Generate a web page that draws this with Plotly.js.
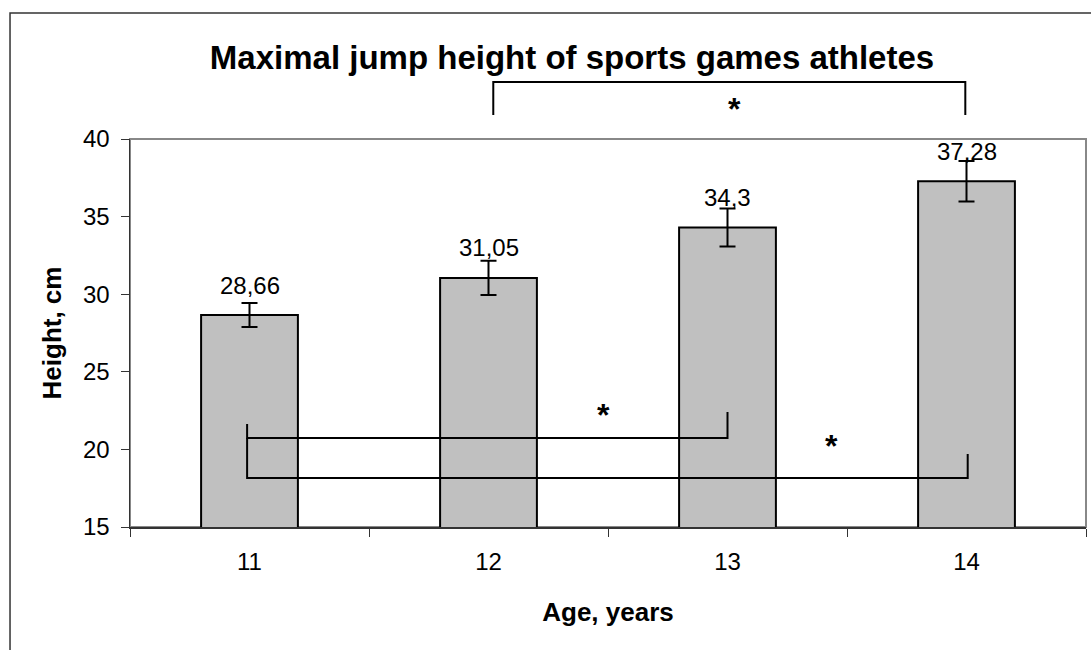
<!DOCTYPE html>
<html>
<head>
<meta charset="utf-8">
<script src="https://cdn.plot.ly/plotly-3.0.1.min.js"></script>
<style>
  html, body { margin: 0; padding: 0; background: #fff; }
  #chart { width: 1091px; height: 650px; }
</style>
</head>
<body>
<div id="chart"></div>
<script>
// Mean maximal jump height by age group, with error bar half-widths
const ages = ['11', '12', '13', '14'];
const heights = [28.66, 31.05, 34.3, 37.28];
const errors = [0.77, 1.1, 1.22, 1.3];

const FONT = 'Arial, "Liberation Sans", sans-serif';

const bars = {
  type: 'bar',
  x: ages,
  y: heights,
  width: 0.405,
  marker: { color: '#c0c0c0', line: { color: '#000', width: 2 } },
  error_y: { type: 'data', array: errors, visible: true, color: '#000', thickness: 2, width: 8 },
  hoverinfo: 'x+y',
  showlegend: false
};

// Value labels above each bar, with comma as decimal separator
// (x given as category index, since the age names look numeric)
const valueLabels = ages.map((a, i) => ({
  x: i, y: heights[i], xref: 'x', yref: 'y',
  text: String(heights[i]).replace('.', ','),
  showarrow: false, yanchor: 'middle', yshift: 30,
  font: { family: FONT, size: 24, color: '#000' }
}));

// Significance markers
const starFont = { family: FONT, size: 32, color: '#000', weight: 'bold' };
const stars = [
  { x: 2.03, y: 1.129, xref: 'x', yref: 'paper', text: '*', showarrow: false, font: starFont },
  { x: 1.48, y: 22.2, xref: 'x', yref: 'y', text: '*', showarrow: false, font: starFont },
  { x: 2.437, y: 20.2, xref: 'x', yref: 'y', text: '*', showarrow: false, font: starFont }
];

const bk = { color: '#000', width: 2 };
const shapes = [
  // outer chart frame
  { type: 'rect', xref: 'paper', yref: 'paper', x0: -0.1255, x1: 1.1, y0: -0.4, y1: 1.3247,
    line: { color: '#333', width: 1.5 }, fillcolor: 'rgba(0,0,0,0)', layer: 'below' },
  // plot area border
  { type: 'rect', xref: 'paper', yref: 'paper', x0: 0, x1: 1, y0: 0, y1: 1,
    line: { color: '#888', width: 2 }, fillcolor: 'rgba(0,0,0,0)', layer: 'below' },
  // bracket 12 - 14 above the plot
  { type: 'path', xref: 'x', yref: 'paper', path: 'M 1.02 1.062 L 1.02 1.147 L 2.995 1.147 L 2.995 1.062', line: bk },
  // bracket 11 - 13
  { type: 'path', xref: 'x', yref: 'y', path: 'M -0.01 21.64 L -0.01 20.73 L 2.0 20.73 L 2.0 22.41', line: bk },
  // bracket 11 - 14
  { type: 'path', xref: 'x', yref: 'y', path: 'M -0.01 20.73 L -0.01 18.16 L 3.005 18.16 L 3.005 19.70', line: bk }
];

const layout = {
  width: 1091,
  height: 650,
  paper_bgcolor: '#fff',
  plot_bgcolor: '#fff',
  margin: { l: 130, r: 5, t: 139, b: 123 },
  font: { family: FONT, color: '#000', size: 24 },
  title: {
    text: '<b>Maximal jump height of sports games athletes</b>',
    font: { family: FONT, size: 33, color: '#000' },
    xref: 'container', x: 0.5243, xanchor: 'center',
    yref: 'container', y: 1 - 57 / 650, yanchor: 'middle'
  },
  xaxis: {
    type: 'category',
    range: [-0.5, 3.5],
    showline: true, linecolor: '#333', linewidth: 1.5,
    ticks: 'outside', tickson: 'boundaries', ticklen: 8, tickcolor: '#333', tickwidth: 1,
    ticklabelstandoff: 13,
    tickfont: { family: FONT, size: 24, color: '#000' },
    showgrid: false, zeroline: false,
    title: { text: '<b>Age, years</b>', font: { family: FONT, size: 26, color: '#000' }, standoff: 28 },
    automargin: false
  },
  yaxis: {
    range: [15, 40],
    dtick: 5, tick0: 15,
    showline: true, linecolor: '#333', linewidth: 1.5,
    ticks: 'outside', ticklen: 8, tickcolor: '#333', tickwidth: 1,
    ticklabelstandoff: 6,
    tickfont: { family: FONT, size: 24, color: '#000' },
    showgrid: false, zeroline: false,
    title: { text: '<b>Height, cm</b>', font: { family: FONT, size: 26, color: '#000' }, standoff: 14 },
    automargin: false
  },
  shapes: shapes,
  annotations: valueLabels.concat(stars),
  bargap: 0.6,
  showlegend: false
};

Plotly.newPlot('chart', [bars], layout, { displayModeBar: false, staticPlot: true });
</script>
</body>
</html>
